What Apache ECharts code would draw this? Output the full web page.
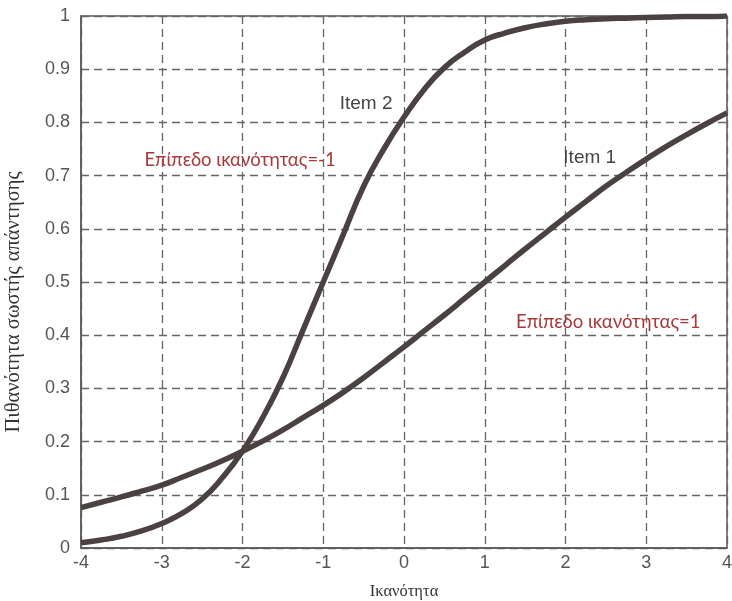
<!DOCTYPE html>
<html>
<head>
<meta charset="utf-8">
<script src="https://cdn.jsdelivr.net/npm/echarts@6/dist/echarts.min.js"></script>
<style>
  html, body { margin: 0; padding: 0; background: #ffffff; }
  #chart { width: 732px; height: 601px; }
</style>
</head>
<body>
<div id="chart"></div>
<script>
// Ability values (x) and probability of a correct answer for each item
const ability = [-4, -3.75, -3.5, -3.25, -3, -2.75, -2.5, -2.25, -2, -1.75, -1.5, -1.25, -1, -0.75, -0.5, -0.25,
  0, 0.25, 0.5, 0.75, 1, 1.25, 1.5, 1.75, 2, 2.25, 2.5, 2.75, 3, 3.25, 3.5, 3.75, 4];
const item1 = [0.076, 0.086, 0.096, 0.107, 0.118, 0.133, 0.148, 0.164, 0.182, 0.201, 0.222, 0.245, 0.268, 0.293, 0.32, 0.349,
  0.378, 0.408, 0.438, 0.469, 0.5, 0.531, 0.562, 0.592, 0.622, 0.651, 0.68, 0.706, 0.731, 0.755, 0.777, 0.798, 0.818];
const item2 = [0.01, 0.015, 0.022, 0.032, 0.046, 0.065, 0.092, 0.132, 0.182, 0.245, 0.32, 0.41, 0.5, 0.59, 0.68, 0.75,
  0.81, 0.862, 0.903, 0.932, 0.955, 0.968, 0.978, 0.985, 0.99, 0.993, 0.995, 0.996, 0.997, 0.998, 0.999, 0.999, 1.0];

const xTicks = [-4, -3, -2, -1, 0, 1, 2, 3, 4];
const yTicks = [0, 0.1, 0.2, 0.3, 0.4, 0.5, 0.6, 0.7, 0.8, 0.9, 1];

const pairs = (xs, ys) => xs.map((x, i) => [x, ys[i]]);

const curveColor = '#4b4141';
const noteRed = '#a8383a';

// Text notes placed in data coordinates
const notes = [
  { text: 'Item 2', coord: [-0.47, 0.835], color: '#444', size: 19, family: 'Liberation Sans' },
  { text: 'Item 1', coord: [2.3, 0.733], color: '#444', size: 19, family: 'Liberation Sans' },
  { text: 'Επίπεδο ικανότητας=-1', coord: [-2.03, 0.73], color: noteRed, size: 18.5, family: 'Lato' },
  { text: 'Επίπεδο ικανότητας=1', coord: [2.53, 0.425], color: noteRed, size: 18.5, family: 'Lato' }
];

const chart = echarts.init(document.getElementById('chart'), null, { renderer: 'canvas' });

const gridLine = { show: true, lineStyle: { color: '#666', width: 1.3, type: [8, 5] } };
const tickLabel = { color: '#555', fontSize: 18, fontFamily: 'Liberation Sans' };

chart.setOption({
  backgroundColor: '#ffffff',
  animation: false,
  grid: {
    left: 81, right: 5, top: 16, bottom: 53,
    outerBoundsMode: 'none', containLabel: false,
    show: true, borderColor: '#5a5a5a', borderWidth: 1.5
  },
  xAxis: {
    type: 'value', min: -4, max: 4, interval: 1,
    axisLine: { show: true, onZero: false, lineStyle: { color: '#5a5a5a', width: 1.5 } },
    axisTick: { show: false },
    splitLine: gridLine,
    axisLabel: Object.assign({ margin: 6, formatter: v => xTicks.includes(v) ? String(v) : '' }, tickLabel),
    name: 'Ικανότητα', nameLocation: 'middle', nameGap: 35,
    nameTextStyle: { fontFamily: 'Liberation Serif', fontSize: 16.5, color: '#333' }
  },
  yAxis: {
    type: 'value', min: 0, max: 1, interval: 0.1,
    axisLine: { show: true, onZero: false, lineStyle: { color: '#5a5a5a', width: 1.5 } },
    axisTick: { show: false },
    splitLine: gridLine,
    axisLabel: Object.assign({ margin: 11, formatter: v => {
      const t = yTicks.find(y => Math.abs(y - v) < 1e-9);
      return t === undefined ? '' : String(+t.toFixed(1));
    } }, tickLabel),
    name: 'Πιθανότητα σωστής απάντησης', nameLocation: 'middle', nameGap: 57, nameRotate: 90,
    nameTextStyle: { fontFamily: 'Liberation Serif', fontSize: 20.5, color: '#333', padding: [0, 40, 0, 0] }
  },
  series: [
    {
      name: 'Item 1', type: 'line', smooth: true, showSymbol: false,
      data: pairs(ability, item1),
      lineStyle: { color: curveColor, width: 5.5 }
    },
    {
      name: 'Item 2', type: 'line', smooth: true, showSymbol: false,
      data: pairs(ability, item2),
      lineStyle: { color: curveColor, width: 5.5 },
      markPoint: {
        symbol: 'circle', symbolSize: 0, silent: true,
        data: notes.map(n => ({
          coord: n.coord,
          label: {
            show: true, position: 'inside', formatter: n.text,
            color: n.color, fontSize: n.size, fontFamily: n.family
          }
        }))
      }
    }
  ]
});
</script>
</body>
</html>
